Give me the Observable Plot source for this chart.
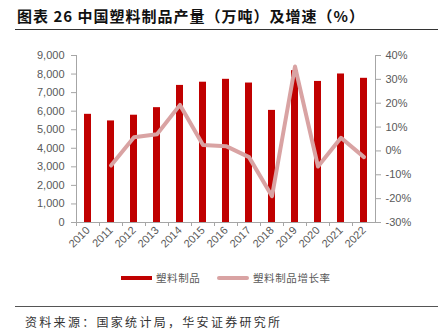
<!DOCTYPE html>
<html><head><meta charset="utf-8">
<script src="https://cdn.jsdelivr.net/npm/d3@7"></script>
<script src="https://cdn.jsdelivr.net/npm/@observablehq/plot@0.6"></script>
<style>
html,body{margin:0;padding:0;background:#fff;}
#wrap{position:relative;width:438px;height:335px;overflow:hidden;font-family:"Noto Sans CJK SC",sans-serif;}
#title{position:absolute;left:17px;top:5px;font-size:15px;font-weight:bold;letter-spacing:1px;color:#111;white-space:nowrap;}
#tline{position:absolute;left:15px;right:0;top:29px;border-top:1.5px solid #333;}
#chart{position:absolute;left:0;top:0;}
#legend{position:absolute;top:270px;left:0;width:438px;height:16px;font-size:10.5px;color:#595959;}
.sw{position:absolute;}
.lt{position:absolute;top:0;letter-spacing:0.6px;white-space:nowrap;}
#fline{position:absolute;left:15px;right:0;top:306px;border-top:1.2px solid #555;}
#source{position:absolute;left:25px;top:313px;font-size:12px;letter-spacing:2.3px;color:#333;white-space:nowrap;}
</style></head>
<body>
<div id="wrap">
  <div id="title">图表 26 中国塑料制品产量（万吨）及增速（%）</div>
  <div id="tline"></div>
  <div id="chart"></div>
  <div id="legend">
    <div class="sw" style="left:121px;top:6px;width:31px;height:4px;background:#c00000;"></div>
    <div class="lt" style="left:156px;">塑料制品</div>
    <div class="sw" style="left:217px;top:6px;width:32px;height:3.5px;border-radius:2px;background:#d9a3a3;"></div>
    <div class="lt" style="left:253px;">塑料制品增长率</div>
  </div>
  <div id="fline"></div>
  <div id="source">资料来源：国家统计局，华安证券研究所</div>
</div>
<script>
const years = ["2010","2011","2012","2013","2014","2015","2016","2017","2018","2019","2020","2021","2022"];
const output = [5830, 5474, 5782, 6189, 7388, 7561, 7717, 7516, 6042, 8184, 7603, 8004, 7771];
const growth = [null, -6.1, 5.7, 7.0, 19.3, 2.5, 2.0, -2.6, -19.0, 35.4, -6.5, 5.5, -2.6];
const leftTicks = [0,1000,2000,3000,4000,5000,6000,7000,8000,9000];
const rightTicks = [-30,-20,-10,0,10,20,30,40];

const yMax = 9000, gMin = -30, gMax = 40;
const toY = g => (g - gMin) / (gMax - gMin) * yMax;
const fromY = v => Math.round(v / yMax * (gMax - gMin) + gMin);

const bars = years.map((y, i) => ({year: y, value: output[i]}));
const line = years.map((y, i) => ({year: y, g: growth[i]})).filter(d => d.g != null);

const axisGray = "#a6a6a6";
const textGray = "#595959";

const plot = Plot.plot({
  width: 438,
  height: 335,
  marginLeft: 76,
  marginRight: 63,
  marginTop: 55,
  marginBottom: 113,
  style: {fontFamily: "'Liberation Sans', Arial, sans-serif", fontSize: "11px", color: textGray, background: "transparent"},
  x: {type: "band", domain: years, paddingInner: 0.7, paddingOuter: 0.35, label: null},
  y: {domain: [0, yMax], label: null},
  marks: [
    Plot.barY(bars, {x: "year", y: "value", fill: "#c00000"}),
    Plot.ruleY([0], {stroke: axisGray, strokeWidth: 1}),
    Plot.frame({anchor: "left", stroke: axisGray}),
    Plot.frame({anchor: "right", stroke: axisGray}),
    Plot.axisY({anchor: "left", ticks: leftTicks, tickFormat: d3.format(","), tickSize: 5, tickPadding: 7, stroke: axisGray, fill: textGray, label: null}),
    Plot.axisY({anchor: "right", ticks: rightTicks.map(toY), tickFormat: v => fromY(v) + "%", tickSize: 5, tickPadding: 5, stroke: axisGray, fill: textGray, label: null}),
    Plot.axisX({ticks: years, tickSize: 4, tickFormat: null, dx: -11.5, stroke: axisGray, label: null}),
    Plot.axisX({ticks: years, tickSize: 0, tickRotate: -45, tickPadding: 6, fill: textGray, label: null}),
    Plot.line(line, {x: "year", y: d => toY(d.g), stroke: "#d9a3a3", strokeWidth: 4, strokeLinejoin: "round", strokeLinecap: "round"})
  ]
});
document.getElementById("chart").appendChild(plot);
</script>
</body></html>
